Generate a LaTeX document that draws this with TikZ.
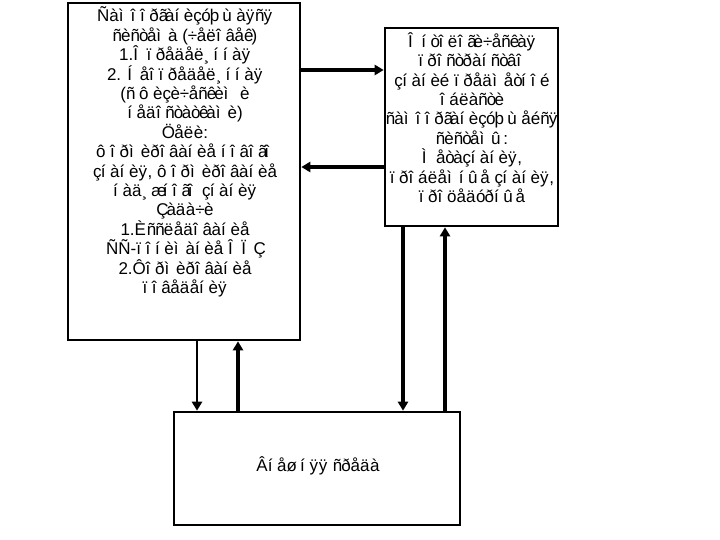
\documentclass[tikz,border=0pt]{standalone}
\usepackage{fontspec}
\setmainfont{Liberation Sans}
\usetikzlibrary{arrows.meta,calc}
% each Latin-1 letter is set with the advance width of the Cyrillic letter
% that has the same code point in Windows-1251, as the reference shows it
\newcommand\cwbox[2]{\setbox0\hbox{#2}\hbox to \wd0{#1\hss}}
\newcount\cwcode
\cwcode="C0
\loop
  \begingroup\lccode`\~=\cwcode
  \lowercase{\endgroup\edef~}{\noexpand\cwbox{\char\the\cwcode\relax}{\char\the\numexpr\cwcode+"350\relax}}%
  \catcode\cwcode=13
  \advance\cwcode by 1
\ifnum\cwcode<"100 \repeat
\begingroup\lccode`\~="B8
\lowercase{\endgroup\def~}{\cwbox{\char"B8\relax}{\char"451\relax}}%
\catcode"B8=13
\begin{document}
\begin{tikzpicture}[x=1pt,y=-1pt,
  box/.style={draw, line width=2.6pt, inner sep=0pt},
  txt/.style={font=\fontsize{17}{19.4}\selectfont, align=center, inner sep=0pt},
  arr/.style={line width=3.5pt, -{Triangle[length=9pt,width=10pt]}}]
\useasboundingbox (0,0) rectangle (720,540);
% boxes
\node[box, minimum width=232pt, minimum height=337pt] (L) at (184,171.5) {};
\node[box, minimum width=173pt, minimum height=198pt] (R) at (471.5,127) {};
\node[box, minimum width=286pt, minimum height=113pt] (B) at (317,468.5) {};
% texts
\node[txt] (Lt) at (185,152) {Ñàìîîðãàíèçóþùàÿñÿ\\ñèñòåìà (÷åëîâåê)\\1.Îïðåäåë¸ííàÿ\\2. Íåîïðåäåë¸ííàÿ\\(ñ ôèçè÷åñêèì è\\íåäîñòàòêàìè)\\Öåëè:\\ôîðìèðîâàíèå íîâîãî\\çíàíèÿ, ôîðìèðîâàíèå\\íàä¸æíîãî çíàíèÿ\\Çàäà÷è\\1.Èññëåäîâàíèå\\ÑÑ-ïîíèìàíèå ÎÏÇ\\2.Ôîðìèðîâàíèå\\ïîâåäåíèÿ};
\node[txt] (Rt) at (472,117.5) {Îíòîëîãè÷åñêàÿ\\ïðîñòðàíñòâî\\çíàíèé ïðåäìåòíîé\\îáëàñòè\\ñàìîîðãàíèçóþùåéñÿ\\ñèñòåìû:\\Ìåòàçíàíèÿ,\\ïðîáëåìíûå çíàíèÿ,\\ïðîöåäóðíûå};
\node[txt] (Bt) at (318,466) {Âíåøíÿÿ ñðåäà};
% connector positions
\coordinate (h1) at (0,70);
\coordinate (h2) at (0,167);
\coordinate (v1) at (197,0);
\coordinate (v2) at (238,0);
\coordinate (v3) at (403,0);
\coordinate (v4) at (445,0);
% connectors
\draw[arr] (L.east |- h1) -- (R.west |- h1);
\draw[arr] (R.west |- h2) -- (L.east |- h2);
\draw[arr, line width=2.8pt] (v1 |- L.south) -- (v1 |- B.north);
\draw[arr] (v2 |- B.north) -- (v2 |- L.south);
\draw[arr] (v3 |- R.south) -- (v3 |- B.north);
\draw[arr] (v4 |- B.north) -- (v4 |- R.south);
\end{tikzpicture}
\end{document}
